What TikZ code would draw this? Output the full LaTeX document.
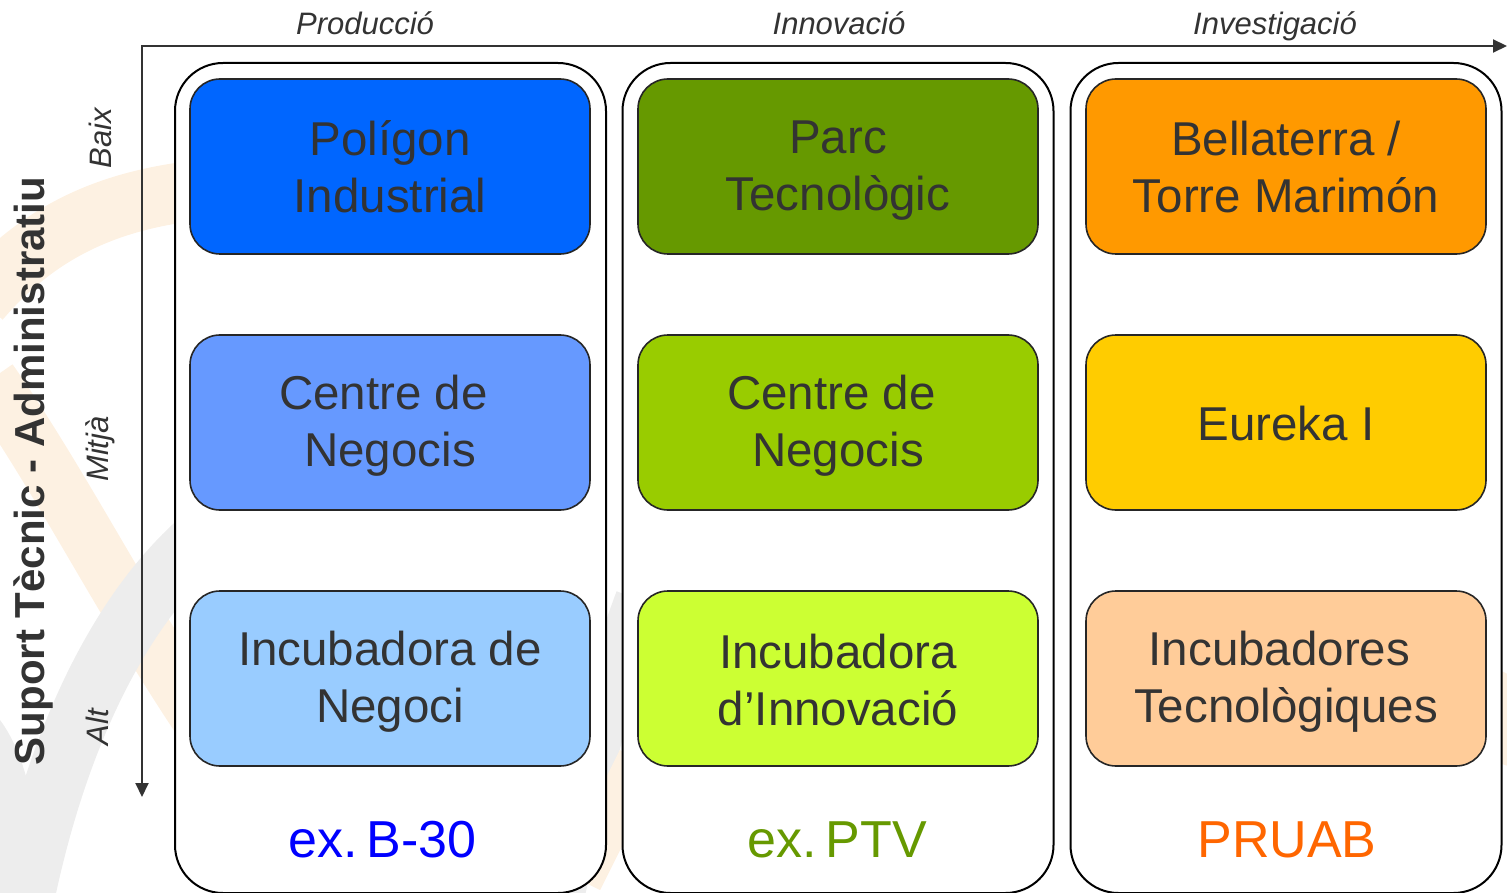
\documentclass[tikz,border=0pt]{standalone}
\usepackage{fontspec}
\setmainfont{Liberation Sans}
\usetikzlibrary{arrows.meta}
\definecolor{txt}{HTML}{333333}
\definecolor{wmorange}{HTML}{FDF1E2}
\definecolor{wmgray}{HTML}{EDEDED}
\definecolor{cA1}{HTML}{0066FF}
\definecolor{cA2}{HTML}{6699FF}
\definecolor{cA3}{HTML}{99CCFF}
\definecolor{cB1}{HTML}{669900}
\definecolor{cB2}{HTML}{99CC00}
\definecolor{cB3}{HTML}{CCFF33}
\definecolor{cC1}{HTML}{FF9900}
\definecolor{cC2}{HTML}{FFCC00}
\definecolor{cC3}{HTML}{FFCC99}
\definecolor{lblue}{HTML}{0000FF}
\definecolor{lgreen}{HTML}{669900}
\definecolor{lorange}{HTML}{FF6600}
\newcommand{\cst}{\rule[-4pt]{0pt}{44pt}}
\newcommand{\tsp}{\ \hbox{}}
\begin{document}
\begin{tikzpicture}[x=1pt,y=-1pt,
  column/.style={draw=black, line width=2pt, fill=white, rounded corners=48pt,
    minimum width=431pt, minimum height=830pt, inner sep=0pt},
  cell/.style={draw=black!85, line width=1.6pt, rounded corners=30pt,
    minimum width=400pt, minimum height=175pt, inner sep=0pt, align=center,
    text=txt, font=\fontsize{47.5}{57}\selectfont},
  header/.style={text=txt, font=\fontsize{31}{36}\selectfont\itshape, anchor=base},
  side/.style={text=txt, font=\fontsize{31}{36}\selectfont\itshape, rotate=90},
  foot/.style={font=\fontsize{52}{60}\selectfont, anchor=base},
  axis/.style={draw=txt, line width=2pt}
]
\useasboundingbox (0,0) rectangle (1507,893);
\begin{scope}
\clip (0,0) rectangle (1507,893);
% faint watermark
\draw[wmorange, line width=60pt] (-20,300) .. controls (40,230) and (110,200) .. (200,190);
\draw[wmorange, line width=55pt] (-10,380) .. controls (60,480) and (120,600) .. (200,720);
\draw[wmgray, line width=60pt] (20,920) .. controls (50,760) and (110,620) .. (200,540);
\fill[wmgray] (0,720) .. controls (30,760) and (40,830) .. (40,893) -- (0,893) -- cycle;
\draw[wmgray, line width=50pt] (560,893) .. controls (590,760) and (610,680) .. (640,600);
\draw[wmorange, line width=45pt] (580,880) .. controls (600,840) and (620,800) .. (640,760);
\draw[wmorange, line width=40pt] (1490,760) .. controls (1500,730) and (1510,700) .. (1520,680);
\end{scope}

% columns
\node[column] (col1) at (390.5,478) {};
\node[column] (col2) at (838,478) {};
\node[column] (col3) at (1286,478) {};

% axes
\coordinate (ytip) at (142,797);
\coordinate (orig) at (142,46);
\coordinate (xtip) at (1507,46);
\draw[axis, {Triangle[length=14pt,width=13pt]}-{Triangle[length=14pt,width=13pt]}] (ytip) -- (orig) -- (xtip);

% headers
\node[header] (h1) at (365,35) {Producció};
\node[header] (h2) at (839,35) {Innovació};
\node[header] (h3) at (1275,35) {Investigació};

% side labels
\node[text=txt, font=\fontsize{42}{48}\selectfont\bfseries, rotate=90] (sup) at (33,471) {Suport Tècnic - Administratiu};
\node[side] (baix) at (100,138) {Baix};
\node[side] (mitja) at (100,449) {Mitjà};
\node[side] (alt) at (97,727) {Alt};

% cells
\node[cell, fill=cA1] (a1) at (390,166.5) {\cst Polígon\\\cst Industrial};
\node[cell, fill=cA2] (a2) at (390,422.5) {\cst Centre de\tsp\\\cst Negocis};
\node[cell, fill=cA3] (a3) at (390,678.5) {\cst Incubadora de\\\cst Negoci};
\node[cell, fill=cB1] (b1) at (838,166.5) {\cst Parc\\\cst Tecnològic};
\node[cell, fill=cB2] (b2) at (838,422.5) {\cst Centre de\tsp\\\cst Negocis};
\node[cell, fill=cB3] (b3) at (838,678.5) {\cst Incubadora\\\cst d’Innovació};
\node[cell, fill=cC1] (c1) at (1286,166.5) {\cst Bellaterra /\\\cst Torre Marimón};
\node[cell, fill=cC2] (c2) at (1286,422.5) {\cst Eureka I};
\node[cell, fill=cC3] (c3) at (1286,678.5) {\cst Incubadores\tsp\\\cst Tecnològiques};

% footers
\node[foot, text=lblue] (f1) at (382.5,857) {ex.\hspace{0.17em}B-30};
\node[foot, text=lgreen] (f2) at (837.5,857) {ex.\hspace{0.17em}PTV};
\node[foot, text=lorange] (f3) at (1287,857) {PRUAB};
\end{tikzpicture}
\end{document}
